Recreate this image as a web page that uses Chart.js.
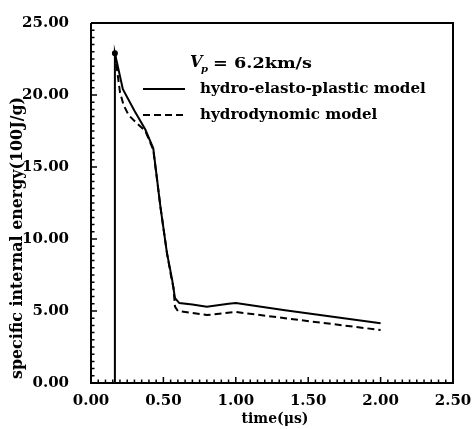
<!DOCTYPE html>
<html>
<head>
<meta charset="utf-8">
<script src="https://cdn.jsdelivr.net/npm/chart.js@4.4.1/dist/chart.umd.min.js"></script>
<style>
  body { margin: 0; background: #fff; }
  canvas { display: block; }
</style>
</head>
<body>
<canvas id="myChart" width="476" height="429"></canvas>
<script>
// values
const solidTime = [0.165, 0.165, 0.22, 0.30, 0.375, 0.43, 0.48, 0.525, 0.56, 0.58, 0.61, 0.70, 0.80, 0.95, 1.00, 1.34, 2.00];
const solidEnergy = [0, 22.9, 20.4, 18.9, 17.6, 16.3, 12.2, 9.0, 7.2, 5.9, 5.55, 5.45, 5.3, 5.5, 5.55, 5.05, 4.15];
const dashTime = [0.165, 0.20, 0.225, 0.26, 0.32, 0.375, 0.43, 0.48, 0.525, 0.555, 0.57, 0.58, 0.60, 0.80, 1.00, 1.34, 2.00];
const dashEnergy = [22.9, 20.2, 19.3, 18.6, 18.0, 17.5, 16.2, 12.2, 9.0, 7.3, 6.6, 5.3, 5.0, 4.72, 4.93, 4.5, 3.68];
const seriesNames = ['hydro-elasto-plastic model', 'hydrodynomic model'];
const xTitle = 'time(μs)';
const yTitle = 'specific internal energy(100J/g)';

const FONT = "'DejaVu Serif', serif";

function pts(xs, ys) {
  return xs.map((x, i) => ({ x: x, y: ys[i] }));
}

// draws frame, inward ticks, legend and axis titles
const paperPlugin = {
  id: 'paper',
  afterDraw(chart) {
    const ctx = chart.ctx;
    const a = chart.chartArea;
    const xs = chart.scales.x, ys = chart.scales.y;
    ctx.save();
    ctx.strokeStyle = '#000';
    ctx.lineWidth = 2;
    ctx.beginPath();
    ctx.moveTo(a.left, a.top); ctx.lineTo(a.right, a.top);
    ctx.lineTo(a.right, a.bottom); ctx.lineTo(a.left, a.bottom);
    ctx.lineTo(a.left, a.top);
    ctx.stroke();

    ctx.lineWidth = 1.5;
    ctx.beginPath();
    for (let i = 0; i <= 50; i++) {
      const px = xs.getPixelForValue(i * 0.05);
      const len = i % 10 === 0 ? 6 : 3.5;
      ctx.moveTo(px, a.bottom); ctx.lineTo(px, a.bottom - len);
    }
    for (let i = 0; i <= 50; i++) {
      const py = ys.getPixelForValue(i * 0.5);
      const len = i % 10 === 0 ? 6 : 3.5;
      ctx.moveTo(a.left, py); ctx.lineTo(a.left + len, py);
    }
    ctx.stroke();

    // legend
    ctx.fillStyle = '#000';
    ctx.textBaseline = 'middle';
    ctx.font = 'italic bold 16px ' + FONT;
    ctx.fillText('V', 190, 63);
    ctx.font = 'italic bold 10px ' + FONT;
    ctx.fillText('p', 201, 69);
    ctx.save();
    ctx.translate(213, 64);
    ctx.font = 'bold 15px ' + FONT;
    const vw = ctx.measureText('= 6.2km/s').width;
    ctx.scale(99 / vw, 1);
    ctx.fillText('= 6.2km/s', 0, 0);
    ctx.restore();

    const rows = [89, 115];
    chart.data.datasets.forEach((ds, i) => {
      ctx.lineWidth = 2;
      ctx.setLineDash(ds.borderDash || []);
      ctx.beginPath();
      ctx.moveTo(143, rows[i]); ctx.lineTo(185, rows[i]);
      ctx.stroke();
      ctx.setLineDash([]);
      ctx.font = 'bold 13px ' + FONT;
      const w = ctx.measureText(seriesNames[0]).width;
      const size = 13 * 226 / w;
      ctx.font = 'bold ' + size.toFixed(2) + 'px ' + FONT;
      ctx.fillText(ds.label, 200, rows[i]);
    });

    // axis titles
    ctx.textAlign = 'center';
    ctx.font = 'bold 14px ' + FONT;
    ctx.fillText(xTitle, (a.left + a.right) / 2 + 3, 419);
    ctx.translate(18, 238);
    ctx.rotate(-Math.PI / 2);
    ctx.font = 'bold 13px ' + FONT;
    const tw = ctx.measureText(yTitle).width;
    ctx.font = 'bold ' + (13 * 282 / tw).toFixed(2) + 'px ' + FONT;
    ctx.fillText(yTitle, 0, 0);
    ctx.restore();
  }
};

new Chart(document.getElementById('myChart'), {
  type: 'line',
  data: {
    datasets: [{
      label: seriesNames[0],
      data: pts(solidTime, solidEnergy),
      borderColor: '#000',
      backgroundColor: '#000',
      borderWidth: 2,
      pointRadius: ctx => ctx.dataIndex === 1 ? 2 : 0,
      tension: 0
    }, {
      label: seriesNames[1],
      data: pts(dashTime, dashEnergy),
      borderColor: '#000',
      borderWidth: 2,
      borderDash: [7, 4],
      pointRadius: 0,
      tension: 0
    }]
  },
  options: {
    responsive: false,
    animation: false,
    layout: { padding: { top: 19, right: 23, left: 0, bottom: 0 } },
    plugins: { legend: { display: false }, tooltip: { enabled: false } },
    scales: {
      x: {
        type: 'linear',
        min: 0, max: 2.5,
        afterFit(s) { s.height = 46; },
        grid: { display: false },
        border: { display: false },
        ticks: {
          stepSize: 0.5,
          padding: 1,
          color: '#000',
          font: { family: FONT, size: 15, weight: 'bold' },
          callback: v => v.toFixed(2)
        }
      },
      y: {
        min: 0, max: 25,
        afterFit(s) { s.width = 91; },
        grid: { display: false },
        border: { display: false },
        ticks: {
          stepSize: 5,
          padding: 14,
          color: '#000',
          font: { family: FONT, size: 15, weight: 'bold' },
          callback: v => v.toFixed(2)
        }
      }
    }
  },
  plugins: [paperPlugin]
});
</script>
</body>
</html>
